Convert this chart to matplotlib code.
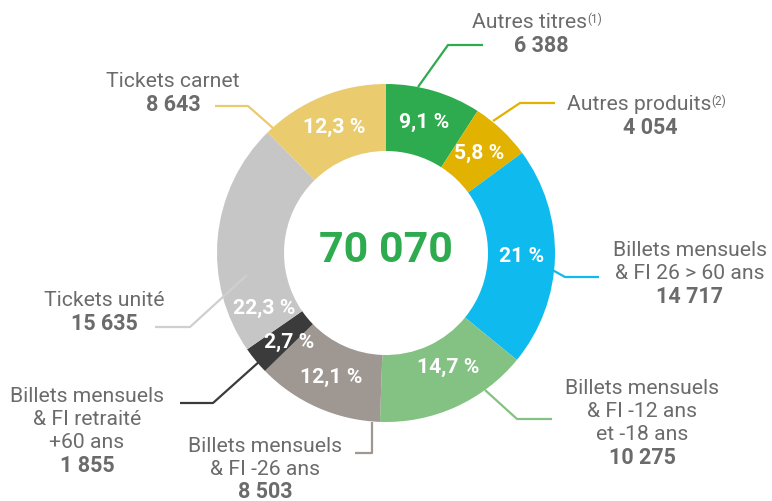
import numpy as np
import matplotlib.pyplot as plt

plt.rcParams['font.family'] = ['Roboto', 'DejaVu Sans']

# Data (clockwise from 12 o'clock)
names = ['Autres titres', 'Autres produits', 'Billets mensuels\n& FI 26 > 60 ans',
         'Billets mensuels\n& FI -12 ans\net -18 ans', 'Billets mensuels\n& FI -26 ans',
         'Billets mensuels\n& FI retraité\n+60 ans', 'Tickets unité', 'Tickets carnet']
notes = ['(1)', '(2)', '', '', '', '', '', '']
values = [6388, 4054, 14717, 10275, 8503, 1855, 15635, 8643]
pct_labels = ['9,1 %', '5,8 %', '21 %', '14,7 %', '12,1 %', '2,7 %', '22,3 %', '12,3 %']
value_labels = ['6 388', '4 054', '14 717', '10 275', '8 503', '1 855', '15 635', '8 643']
total_label = '70 070'
colors = ['#2eab4e', '#e1b200', '#0ebaee', '#84c283', '#9e9792', '#3b3b3b', '#c6c6c6', '#eacb6e']
line_colors = ['#2eab4e', '#e1b200', '#0ebaee', '#84c283', '#9e9792', '#3b3b3b', '#cfcfcf', '#eacb6e']

W, H = 772, 501
TXT = '#6b6b6b'

def P(x, y):
    # pixel position (from top-left) -> data coords
    return x, H - y

fig = plt.figure(figsize=(W / 100, H / 100), dpi=100)
ax = fig.add_axes([0, 0, 1, 1])

cx, cy = P(386, 253)
R, RW = 169, 67
ax.pie(values, colors=colors, startangle=90, counterclock=False,
       center=(cx, cy), radius=R, wedgeprops=dict(width=RW, linewidth=0))
ax.set_xlim(0, W)
ax.set_ylim(0, H)
ax.set_aspect('equal')
ax.axis('off')

# percentage labels inside the ring
frac = np.array(values) / sum(values)
cum = np.cumsum(frac) - frac / 2
shift = [0, 0, 0, -4, 0, -3, -30, 0]
radii = [136, 136, 136, 130, 136, 132, 134, 136]
for i, lab in enumerate(pct_labels):
    ang = np.deg2rad(90 - cum[i] * 360 - shift[i])
    r = radii[i]
    ax.text(cx + r * np.cos(ang), cy + r * np.sin(ang), lab, color='white',
            fontsize=15.2, fontweight='bold', ha='center', va='center')

ax.text(cx, cy + 2, total_label, color='#2eab4e', fontsize=31, fontweight='bold',
        ha='center', va='center')

# leader lines (pixel elbows)
leaders = [
    [(418, 87), (448, 45), (483, 45)],
    [(493, 121), (520, 103), (555, 103)],
    [(547, 267), (565, 277), (599, 277)],
    [(485, 390), (517, 419), (552, 419)],
    [(372, 422), (372, 453), (355, 453)],
    [(270, 352), (213, 403), (180, 403)],
    [(247, 275), (190, 327), (155, 327)],
    [(273, 128), (248, 106), (215, 106)],
]
for pts, c in zip(leaders, line_colors):
    xs, ys = zip(*[P(x, y) for x, y in pts])
    ax.plot(xs, ys, color=c, lw=1.6, solid_capstyle='butt')

# outer labels: (center x, y of first line) in pixels
label_pos = [(530, 22), (639, 104), (690, 250), (642, 388), (265, 446),
             (87, 396), (104, 300), (173, 81)]
LS = 23.5
for i, (x, y) in enumerate(label_pos):
    lines = names[i].split('\n')
    for j, ln in enumerate(lines):
        t = ax.text(*P(x, y + j * LS), ln, color=TXT, fontsize=15.2,
                    ha='center', va='center')
        if j == 0 and notes[i]:
            ax.annotate(notes[i], xy=(1, 1), xycoords=t, xytext=(0, 0),
                        textcoords='offset points', ha='left', va='top',
                        color=TXT, fontsize=8.5)
    nx = x + (11 if notes[i] else 0)
    ny = y + len(lines) * LS - (1.5 if i == 4 else 0)
    ax.text(*P(nx, ny), value_labels[i], color=TXT, fontsize=15.5,
            fontweight='bold', ha='center', va='center')

fig.savefig('out.png', dpi=100)
